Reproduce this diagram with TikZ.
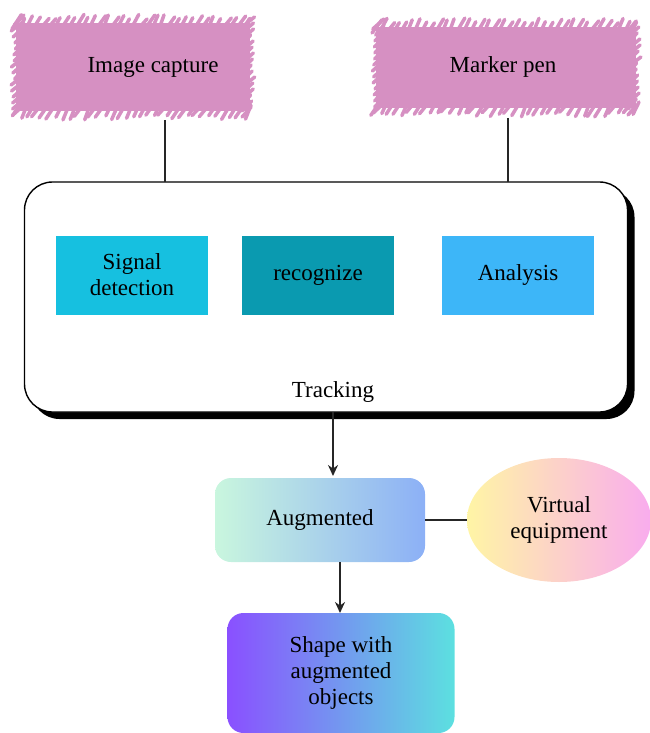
\documentclass[tikz,border=0pt]{standalone}
\usepackage{fontspec}
\setmainfont{Liberation Serif}
\usetikzlibrary{shadows,arrows.meta,shapes.geometric}
\definecolor{pinkscr}{HTML}{D690C2}
\definecolor{sigc}{HTML}{16C0E0}
\definecolor{recc}{HTML}{0A9AB0}
\definecolor{anac}{HTML}{3DB6F8}
\definecolor{augL}{HTML}{C9F6DE}
\definecolor{augR}{HTML}{8CB0F6}
\definecolor{virL}{HTML}{FFF5A5}
\definecolor{virM}{HTML}{FACDC8}
\definecolor{virR}{HTML}{F9ACEE}
\definecolor{shpL}{HTML}{8A50FF}
\definecolor{shpR}{HTML}{5CE0E0}
\tikzset{
  txt/.style={font=\fontsize{23}{26}\selectfont, align=center, text=black},
  hatch/.style={draw=pinkscr, line width=3.5pt, line cap=round},
  inner/.style={txt, minimum width=152pt, minimum height=79pt, inner sep=0pt},
  link/.style={line width=2.6pt, draw=black!85},
  arr/.style={link, -{Stealth[length=11pt,width=10pt]}},
}
% scribble box: #1 left, #2 top, #3 right, #4 bottom
\newcommand{\scribblebox}[4]{%
  \fill[pinkscr] (#1+6,#2+6) rectangle (#3-6,#4-6);
  \pgfmathsetmacro{\xa}{#1+2}\pgfmathsetmacro{\xb}{#1+9}\pgfmathsetmacro{\xe}{#3-8}
  \foreach \xx in {\xa,\xb,...,\xe} {
    \pgfmathsetmacro{\ra}{rnd*5}\pgfmathsetmacro{\rb}{rnd*5}
    \draw[hatch] (\xx,#2+12) -- (\xx+10-\rb,#2+2-\ra);
    \pgfmathsetmacro{\ra}{rnd*5}\pgfmathsetmacro{\rb}{rnd*5}
    \draw[hatch] (\xx-2+\rb,#4-2+\ra) -- (\xx+8,#4-12);
  }
  \pgfmathsetmacro{\ya}{#2+4}\pgfmathsetmacro{\yb}{#2+10}\pgfmathsetmacro{\ye}{#4-4}
  \foreach \yy in {\ya,\yb,...,\ye} {
    \pgfmathsetmacro{\ra}{rnd*5}
    \draw[hatch] (#1+1+\ra,\yy+4) -- (#1+14,\yy-6);
    \pgfmathsetmacro{\ra}{rnd*5}
    \draw[hatch] (#3-14,\yy+6) -- (#3-1-\ra,\yy-4);
  }
}
\begin{document}
\begin{tikzpicture}[x=1pt,y=-1pt]
\useasboundingbox (0,0) rectangle (650,733);
\pgfmathsetseed{7}
% scribble boxes
\scribblebox{10}{17}{256}{117}
\scribblebox{370}{21}{642}{114}
\node[txt] (cap) at (153,67) {Image capture};
\node[txt] (pen) at (503,67) {Marker pen};
% tracking box
\node[draw=black, line width=1.4pt, rounded corners=28pt, fill=white,
      drop shadow={shadow xshift=7pt, shadow yshift=-7pt, fill=black, opacity=1},
      minimum width=603pt, minimum height=230pt] (trk) at (326,297) {};
\node[txt] (trklbl) at (333,392) {Tracking};
\coordinate (capin) at (165,182);
\coordinate (penin) at (508,182);
\draw[link] (165,120) -- (capin);
\draw[link] (508,118) -- (penin);
% inner boxes
\node[inner, fill=sigc] (sig) at (132,275) {Signal\\detection};
\node[inner, fill=recc] (rec) at (318,275) {recognize};
\node[inner, fill=anac] (ana) at (518,275) {Analysis};
% augmented
\node[txt, rounded corners=16pt, minimum width=210pt, minimum height=84pt,
      left color=augL, right color=augR] (aug) at (320,520) {Augmented};
% virtual equipment
\node[txt, ellipse, minimum width=184pt, minimum height=124pt, inner sep=0pt,
      left color=virL, middle color=virM, right color=virR] (virt) at (559,520) {Virtual\\equipment};
% shape
\node[txt, rounded corners=16pt, minimum width=227pt, minimum height=120pt,
      left color=shpL, right color=shpR] (shp) at (341,673) {Shape with\\augmented\\objects};
% connectors
\draw[arr] (333,412) -- (333,476);
\draw[link] (aug.east) -- (virt.west);
\draw[arr] (340,562) -- (340,613);
\end{tikzpicture}
\end{document}
